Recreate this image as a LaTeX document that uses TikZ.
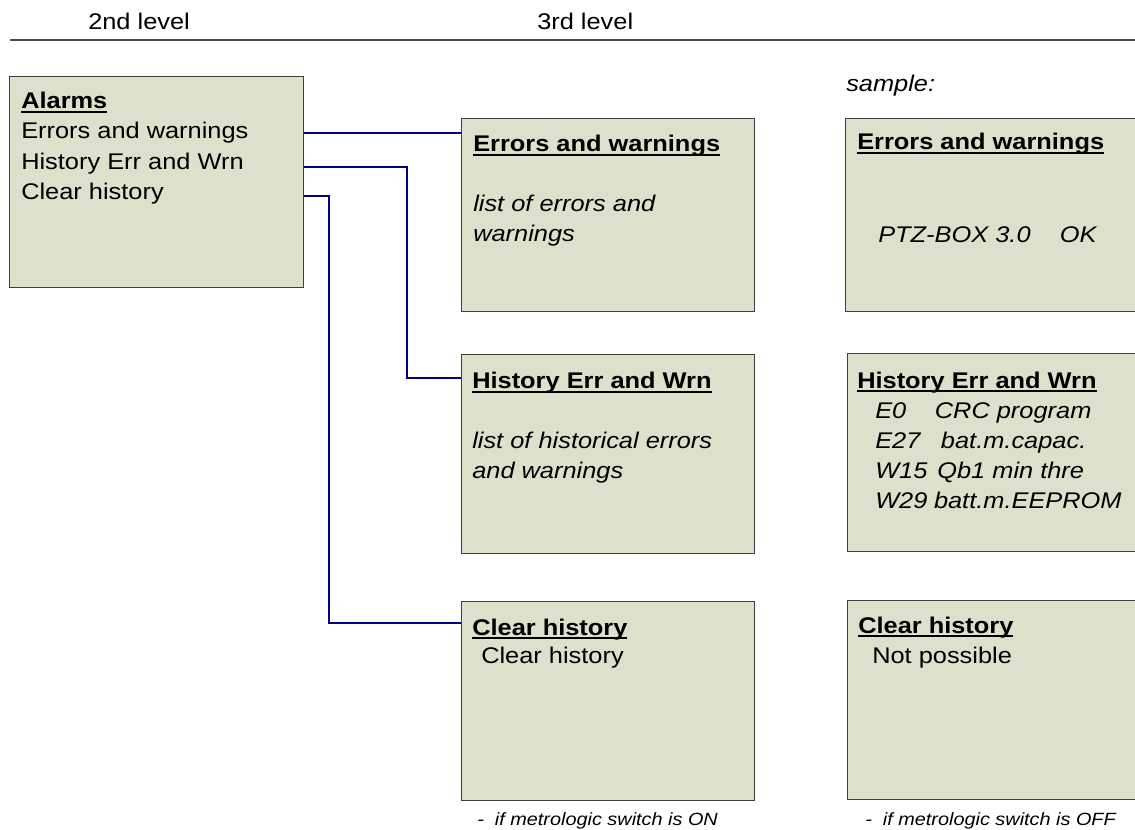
\documentclass[tikz,border=0pt]{standalone}
\usepackage{fontspec}
\setmainfont{Liberation Sans}[FakeStretch=1.12]
\usetikzlibrary{positioning}

\definecolor{screenfill}{RGB}{221,224,203}
\definecolor{linkblue}{RGB}{0,0,128}

% bold title with a thick underline
\newcommand{\ulbf}[1]{\setbox0\hbox{\bfseries #1}\rlap{\rule[-3pt]{\wd0}{1.5pt}}\box0}

\tikzset{
  screen/.style={draw=black!75, fill=screenfill, line width=0.9pt, anchor=north west,
                 inner sep=0pt, minimum width=219.75pt},
  txt/.style={anchor=base west, inner sep=0pt, font=\fontsize{17}{22.5}\selectfont},
  lst/.style={txt, font=\fontsize{17}{22.5}\selectfont\itshape},
  note/.style={txt, font=\fontsize{13.3}{16}\selectfont\itshape},
  link/.style={draw=linkblue, line width=1.4pt}
}

\begin{document}
\begin{tikzpicture}[x=0.75pt, y=-0.75pt]
   \useasboundingbox (0,0) rectangle (1135,830);
   % header
   \node[txt] (lv2) at (88,30) {2nd level};
   \node[txt] (lv3) at (537,30) {3rd level};
   \draw[black!70, line width=1.1pt] (10,40) -- (1135,40);

   % 2nd level
   \node[screen, minimum width=220.5pt, minimum height=158.25pt] (al) at (9,76) {};
   \node[txt] (alT) at (21,109) {\ulbf{Alarms}};
   \foreach \t/\y [count=\i] in {Errors and warnings/139, History Err and Wrn/170, Clear history/200}
     \node[txt] (al\i) at (21,\y) {\t};

   % 3rd level
   \node[screen, minimum height=144.75pt] (ew) at (461,118) {};
   \node[txt] (ewT) at (473,152) {\ulbf{Errors and warnings}};
   \node[lst] (ew1) at (473,212) {list of errors and};
   \node[lst] (ew2) at (473,242) {warnings};

   \node[screen, minimum height=149.25pt] (hw) at (461,354) {};
   \node[txt] (hwT) at (472,389) {\ulbf{History Err and Wrn}};
   \node[lst] (hw1) at (472,448) {list of historical errors};
   \node[lst] (hw2) at (472,478) {and warnings};

   \node[screen, minimum height=149.25pt] (cw) at (461,601) {};
   \node[txt] (cwT) at (472,635) {\ulbf{Clear history}};
   \node[txt] (cw1) at (481,663) {Clear history};
   \node[note] (cwN) at (477,825) {-\ \ if metrologic switch is ON};

   % connectors
   \coordinate (j1) at (380,133);
   \coordinate (j2) at (407,167);
   \coordinate (j2b) at (407,378);
   \coordinate (j3) at (329,196);
   \coordinate (j3b) at (329,623);
   \draw[link] (al.east |- j1) -- (ew.west |- j1);
   \draw[link] (al.east |- j2) -- (j2) -- (j2b) -- (hw.west |- j2b);
   \draw[link] (al.east |- j3) -- (j3) -- (j3b) -- (cw.west |- j3b);

   % samples
   \node[lst] (smp) at (846,92) {sample:};

   \node[screen, minimum width=221.25pt, minimum height=144.75pt] (ewS) at (845,118) {};
   \node[txt] (ewST) at (857,150) {\ulbf{Errors and warnings}};
   \node[lst] (ewS1) at (878,243) {PTZ-BOX 3.0\hspace{22pt}OK};

   \node[screen, minimum width=220pt, minimum height=148.5pt] (hwS) at (847,353) {};
   \node[txt] (hwST) at (857,388) {\ulbf{History Err and Wrn}};
   \foreach \c/\t/\g [count=\i] in {E0/CRC program/21, E27/bat.m.capac./15,
                                    W15/Qb1 min thre/7, W29/batt.m.EEPROM/4.5} {
     \node[lst] (hc\i) at (875,388+30*\i) {\c};
     \node[lst] (ht\i) at ([xshift=\g pt]hc\i.base east) {\t};
   }

   \node[screen, minimum width=220pt, minimum height=149.25pt] (cwS) at (847,600) {};
   \node[txt] (cwST) at (858,633) {\ulbf{Clear history}};
   \node[txt] (cwS1) at (872,663) {Not possible};
   \node[note] (cwSN) at (865,825) {-\ \ if metrologic switch is OFF};
\end{tikzpicture}
\end{document}
